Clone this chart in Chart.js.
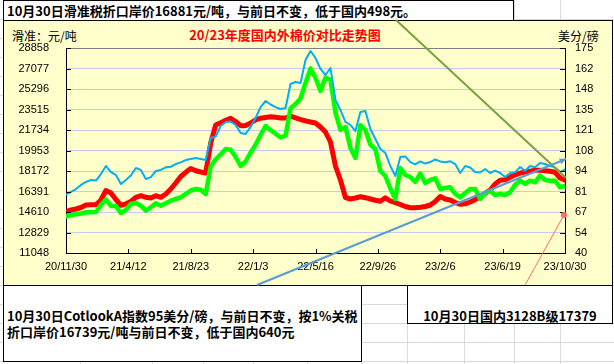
<!DOCTYPE html>
<html>
<head>
<meta charset="utf-8">
<script src="https://cdn.jsdelivr.net/npm/chart.js@4.4.0/dist/chart.umd.min.js"></script>
<style>
  html, body { margin: 0; padding: 0; background: #fff; }
  #page { position: relative; width: 614px; height: 364px; overflow: hidden; font-family: "Noto Sans CJK SC", sans-serif; }
  .vl { position: absolute; top: 0; height: 364px; width: 1px; background: #d9d9d9; }
  .hl { position: absolute; left: 0; width: 614px; height: 1px; background: #d9d9d9; }
  .box { position: absolute; box-sizing: border-box; background: #fff; border: 1px solid #000; font-weight: bold; font-size: 13px; color: #000; white-space: nowrap; }
  #topBox { left: 3px; top: 0; width: 511px; height: 21px; line-height: 19px; padding-left: 3px; }
  #chartBg { position: absolute; left: 3px; top: 20px; width: 610px; height: 266px; box-sizing: border-box; background: #ffffcc; border: 1px solid #000; }
  #noteL { left: 3px; top: 285px; width: 359px; height: 77px; line-height: 16px; padding: 22px 0 0 3px; }
  #noteR { left: 407px; top: 285px; width: 206px; height: 39px; line-height: 16px; padding-top: 22px; text-align: center; }
  .lbl { position: absolute; font-size: 12px; line-height: 14px; color: #000; white-space: nowrap; }
  #unitL { left: 12px; top: 29px; }
  #unitR { left: 558px; top: 29px; }
  #title { left: 188px; top: 28px; width: 194px; text-align: center; color: #ff0000; font-weight: bold; font-size: 13px; }
  canvas { position: absolute; left: 0; top: 0; }
</style>
</head>
<body>
<div id="page">
  <div id="cells"></div>
  <div class="box" id="topBox">10月30日滑准税折口岸价16881元/吨，与前日不变，低于国内498元。</div>
  <div id="chartBg"></div>
  <div class="lbl" id="unitL">滑准：元/吨</div>
  <div class="lbl" id="title">20/23年度国内外棉价对比走势图</div>
  <div class="lbl" id="unitR">美分/磅</div>
  <div class="box" id="noteL">10月30日CotlookA指数95美分/磅，与前日不变，按1%关税<br>折口岸价16739元/吨与前日不变，低于国内640元</div>
  <div class="box" id="noteR">10月30日国内3128B级17379</div>
  <canvas id="c" width="614" height="364"></canvas>
</div>
<script>
const dateLabels = ['20/11/30', '21/4/12', '21/8/23', '22/1/3', '22/5/16', '22/9/26', '23/2/6', '23/6/19', '23/10/30'];
const leftTicks = ['11048', '12829', '14610', '16391', '18172', '19953', '21734', '23515', '25296', '27077', '28858'];
const rightTicks = ['40', '54', '67', '81', '94', '108', '121', '135', '148', '162', '175'];

// 国内3128B 元/吨
const domestic3128B = [
  14653, 14784, 14871, 15001, 15218, 15244, 15236, 15653, 16478, 16261,
  15696, 15192, 15322, 15522, 15887, 16026, 15887, 15826, 16026, 15887,
  16174, 16608, 17129, 17694, 18059, 18389, 18189, 18085, 17998, 20605,
  22168, 22368, 22577, 22750, 22472, 22108, 22125, 22342, 22620, 22759,
  22820, 22881, 22846, 22785, 22777, 22933, 22794, 22646, 22533, 22429,
  22342, 21995, 21560, 20691, 18606, 17390, 15870, 15739, 15826, 15931,
  15852, 15739, 15635, 15548, 15844, 15566, 15418, 15262, 15088, 14983,
  14975, 15018, 15088, 15218, 15522, 15957, 15739, 15653, 15435, 15279,
  15322, 15479, 15679, 15939, 16226, 16521, 17043, 17364, 17407, 17625,
  17842, 17990, 18085, 18146, 18233, 18233, 18189, 18146, 18059, 17564,
  17379
];
// 滑准税折口岸价 元/吨
const slidingTaxPrice = [
  14202, 14349, 14410, 14480, 14584, 14584, 14610, 15218, 15696, 15131,
  15131, 14523, 14784, 15305, 15392, 15157, 14723, 15018, 15366, 15157,
  15366, 15592, 15739, 15887, 16174, 16478, 16608, 16547, 16174, 18563,
  19188, 19606, 20083, 20014, 19388, 18606, 18997, 19779, 20448, 21317,
  22082, 21717, 21413, 21082, 21256, 23602, 23993, 24471, 25817, 27077,
  26252, 25122, 26295, 26078, 23254, 21751, 21995, 20170, 19301, 22151,
  21734, 20457, 20083, 18172, 17738, 16652, 15739, 18433, 17824, 17651,
  17216, 17955, 17129, 17390, 17538, 16608, 16695, 16756, 16174, 15887,
  16261, 16608, 16608, 15739, 16261, 16460, 16087, 16174, 16087, 16321,
  16973, 17329, 17043, 17329, 17190, 17764, 17390, 17329, 17329, 16756,
  16881
];
// CotlookA 美分/磅
const cotlookA = [
  78.5, 80.2, 82.1, 84.8, 86.8, 88.1, 87.7, 92.0, 97.3, 93.3,
  91.4, 85.4, 88.1, 91.0, 96.0, 94.7, 88.7, 90.0, 94.0, 94.7,
  96.4, 96.8, 98.6, 99.7, 101.2, 101.9, 102.6, 101.9, 101.2, 115.7,
  116.7, 123.6, 126.3, 126.6, 124.3, 119.0, 118.4, 123.0, 128.9, 136.1,
  140.1, 137.8, 136.1, 134.8, 135.5, 151.3, 152.6, 152.0, 167.1, 173.0,
  168.4, 161.2, 157.2, 161.8, 140.8, 134.2, 126.3, 124.3, 120.3, 132.9,
  133.5, 121.7, 115.1, 108.5, 105.9, 97.3, 90.7, 103.2, 103.6, 99.9,
  98.3, 100.3, 98.9, 99.9, 101.6, 100.3, 99.7, 100.4, 98.6, 92.7,
  97.3, 96.3, 93.3, 93.0, 95.3, 92.7, 94.2, 92.7, 90.0, 92.7,
  93.1, 96.6, 94.2, 97.3, 96.4, 99.3, 98.6, 97.3, 96.4, 93.3,
  95
];

// excel sheet gridlines behind the drawing
const cellCols = [80, 152, 203, 253, 307, 361, 407, 464, 514, 560];
const cellRows = [19, 38, 57, 76, 95, 114, 133, 152, 171, 190, 209, 228, 247, 266, 285, 304, 323, 342, 361];
const cells = document.getElementById('cells');
cellCols.forEach(x => {
  const d = document.createElement('div');
  d.className = 'vl';
  d.style.left = x + 'px';
  cells.appendChild(d);
});
cellRows.forEach(y => {
  const d = document.createElement('div');
  d.className = 'hl';
  d.style.top = y + 'px';
  cells.appendChild(d);
});

const toPoints = arr => arr.map((v, i) => ({ x: i, y: v }));
const tickFont = { family: 'Liberation Sans', size: 11 };

// callout lines from the text boxes (page pixels)
const callouts = [
  { from: [396, 20], to: [566, 178], color: '#77a33f', width: 2, end: 'none' },
  { from: [257, 285], to: [566, 159], color: '#5b9bd5', width: 2, end: 'arrow' },
  { from: [525, 285], to: [564, 215], color: '#ff6b6b', width: 1, end: 'dot' }
];

const overlay = {
  id: 'overlay',
  afterDraw(chart) {
    const ctx = chart.ctx;
    const { x, y, y1 } = chart.scales;
    ctx.save();
    ctx.strokeStyle = '#000';
    ctx.lineWidth = 1;
    ctx.beginPath();
    y.ticks.forEach(t => {
      const py = Math.round(y.getPixelForValue(t.value)) + 0.5;
      ctx.moveTo(y.right, py); ctx.lineTo(y.right + 5, py);
    });
    y1.ticks.forEach(t => {
      const py = Math.round(y1.getPixelForValue(t.value)) + 0.5;
      ctx.moveTo(y1.left - 5, py); ctx.lineTo(y1.left, py);
    });
    x.ticks.forEach(t => {
      const px = Math.round(x.getPixelForValue(t.value)) + 0.5;
      ctx.moveTo(px, x.top); ctx.lineTo(px, x.top - 4);
    });
    ctx.stroke();

    callouts.forEach(c => {
      ctx.strokeStyle = c.color;
      ctx.fillStyle = c.color;
      ctx.lineWidth = c.width;
      ctx.beginPath();
      ctx.moveTo(c.from[0], c.from[1]);
      ctx.lineTo(c.to[0], c.to[1]);
      ctx.stroke();
      const ang = Math.atan2(c.to[1] - c.from[1], c.to[0] - c.from[0]);
      if (c.end === 'arrow') {
        ctx.beginPath();
        ctx.moveTo(c.to[0], c.to[1]);
        ctx.lineTo(c.to[0] - 7 * Math.cos(ang - 0.45), c.to[1] - 7 * Math.sin(ang - 0.45));
        ctx.lineTo(c.to[0] - 7 * Math.cos(ang + 0.45), c.to[1] - 7 * Math.sin(ang + 0.45));
        ctx.closePath();
        ctx.fill();
      } else if (c.end === 'dot') {
        ctx.beginPath();
        ctx.arc(c.to[0], c.to[1], 3, 0, Math.PI * 2);
        ctx.fill();
      }
    });
    ctx.restore();
  }
};

new Chart(document.getElementById('c'), {
  type: 'line',
  data: {
    datasets: [
      {
        label: '国内3128B',
        data: toPoints(domestic3128B),
        yAxisID: 'y',
        borderColor: '#ff0000',
        borderWidth: 5,
        order: 3
      },
      {
        label: '滑准税折口岸价',
        data: toPoints(slidingTaxPrice),
        yAxisID: 'y',
        borderColor: '#00ff00',
        borderWidth: 4.5,
        order: 2
      },
      {
        label: 'CotlookA',
        data: toPoints(cotlookA),
        yAxisID: 'y1',
        borderColor: '#00b0f0',
        borderWidth: 2,
        order: 1
      }
    ]
  },
  options: {
    responsive: false,
    animation: false,
    devicePixelRatio: 1,
    layout: { padding: { top: 48, left: 0, right: 0, bottom: 0 } },
    elements: {
      point: { radius: 0 },
      line: { tension: 0, borderJoinStyle: 'round', borderCapStyle: 'round' }
    },
    plugins: {
      legend: { display: false },
      tooltip: { enabled: false }
    },
    scales: {
      x: {
        type: 'linear',
        min: 0,
        max: domestic3128B.length - 1,
        afterBuildTicks: s => {
          s.ticks = dateLabels.map((_, i) => ({ value: i * s.max / (dateLabels.length - 1) }));
        },
        afterFit: s => { s.height = 111; },
        ticks: {
          callback: (v, i) => dateLabels[i],
          autoSkip: false,
          maxRotation: 0,
          padding: 7,
          color: '#000',
          font: tickFont
        },
        grid: { display: false, drawTicks: false },
        border: { color: '#000', width: 1 }
      },
      y: {
        position: 'left',
        min: 11048,
        max: 28858,
        afterBuildTicks: s => { s.ticks = leftTicks.map(t => ({ value: Number(t) })); },
        afterFit: s => { s.width = 66; },
        ticks: {
          callback: (v, i) => leftTicks[i],
          autoSkip: false,
          padding: 17,
          color: '#000',
          font: tickFont
        },
        grid: {
          drawTicks: false,
          color: c => (c.index === leftTicks.length - 1 ? '#808080' : '#c4cbee')
        },
        border: { color: '#000', width: 1 }
      },
      y1: {
        position: 'right',
        min: 40,
        max: 175,
        afterBuildTicks: s => {
          s.ticks = rightTicks.map((_, i) => ({ value: s.min + i * (s.max - s.min) / (rightTicks.length - 1) }));
        },
        afterFit: s => { s.width = 49; },
        ticks: {
          callback: (v, i) => rightTicks[i],
          autoSkip: false,
          padding: 10,
          color: '#000',
          font: tickFont
        },
        grid: { display: false, drawTicks: false },
        border: { color: '#000', width: 1 }
      }
    }
  },
  plugins: [overlay]
});
</script>
</body>
</html>
